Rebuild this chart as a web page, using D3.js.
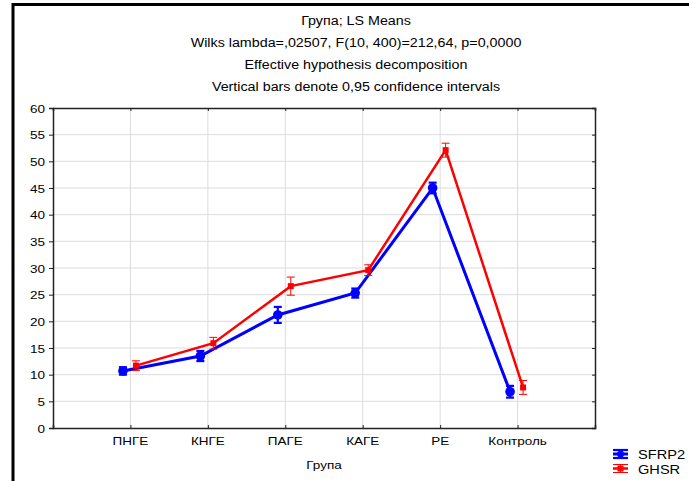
<!DOCTYPE html>
<html>
<head>
<meta charset="utf-8">
<script src="https://cdn.jsdelivr.net/npm/d3@7"></script>
<style>
  body { margin: 0; background: #fff; }
  text { font-family: "Liberation Sans", Arial, sans-serif; fill: #000; }
</style>
</head>
<body>
<svg id="chart" width="689" height="481"></svg>
<script>
// data
const groups = ["ПНГЕ", "КНГЕ", "ПАГЕ", "КАГЕ", "РЕ", "Контроль"];
const sfrp2 = [10.7, 13.5, 21.2, 25.3, 45.0, 6.8];
const sfrp2Ci = [0.7, 0.95, 1.5, 0.85, 1.0, 1.1];
const ghsr = [11.7, 15.9, 26.6, 29.6, 52.1, 7.6];
const ghsrCi = [0.9, 1.1, 1.7, 1.0, 1.3, 1.3];
const yTicks = [0, 5, 10, 15, 20, 25, 30, 35, 40, 45, 50, 55, 60];
const titleLines = [
  "Група; LS Means",
  "Wilks lambda=,02507, F(10, 400)=212,64, p=0,0000",
  "Effective hypothesis decomposition",
  "Vertical bars denote 0,95 confidence intervals"
];
const seriesNames = ["SFRP2", "GHSR"];

const svg = d3.select("#chart");
const margin = {top: 108, right: 94, bottom: 53, left: 53};
const W = 689, H = 481;
const w = W - margin.left - margin.right, h = H - margin.top - margin.bottom;
const sy = 0.84;

// squashed text like the original export
function label(sel, x, y, str, anchor, size) {
  return sel.append("text")
    .attr("transform", `translate(${x},${y}) scale(1,${sy})`)
    .attr("text-anchor", anchor || "middle")
    .style("font-size", (size || 13.5) + "px")
    .text(str);
}

// outer frame
svg.append("line").attr("x1", 13).attr("x2", 13).attr("y1", 3).attr("y2", H).attr("stroke", "#000").attr("stroke-width", 3);
svg.append("line").attr("x1", 12).attr("x2", W).attr("y1", 4.5).attr("y2", 4.5).attr("stroke", "#000").attr("stroke-width", 3);

titleLines.forEach((t, i) => label(svg, 356, 25 + i * 22, t, "middle", 14.3));

const g = svg.append("g").attr("transform", `translate(${margin.left},${margin.top})`);

const x = d3.scalePoint().domain(groups).range([0, w]).padding(1);
const y = d3.scaleLinear().domain([0, 60]).range([h, 0]);

// grid
g.selectAll(".hgrid").data(yTicks.slice(1, -1)).join("line")
  .attr("x1", 0).attr("x2", w).attr("y1", d => y(d)).attr("y2", d => y(d))
  .attr("stroke", "#dcdcdc").attr("stroke-width", 1);
g.selectAll(".vgrid").data(groups).join("line")
  .attr("x1", d => x(d)).attr("x2", d => x(d)).attr("y1", 0).attr("y2", h)
  .attr("stroke", "#dcdcdc").attr("stroke-width", 1);

// axes
g.append("g").call(d3.axisLeft(y).tickValues(yTicks).tickSize(4).tickFormat(""));
g.append("g").attr("transform", `translate(0,${h})`).call(d3.axisBottom(x).tickSize(-3).tickFormat(""));
g.append("g").call(d3.axisTop(x).tickSize(-3).tickFormat(""));
g.append("g").attr("transform", `translate(${w},0)`).call(d3.axisRight(y).tickValues(yTicks).tickSize(-3).tickFormat(""));
g.selectAll(".domain").attr("stroke", "#222").attr("stroke-width", 1.5);
g.selectAll(".tick line").attr("stroke", "#222");

yTicks.forEach(v => label(g, -8, y(v) + 4.5, v, "end"));
groups.forEach(c => label(g, x(c), h + 17, c));
label(svg, margin.left + w / 2, 469, "Група");

// series
const series = [
  {name: seriesNames[0], vals: sfrp2, ci: sfrp2Ci, color: "#0000ff", dx: -7.5, lw: 3, ew: 2.2},
  {name: seriesNames[1], vals: ghsr, ci: ghsrCi, color: "#ff0000", dx: 5.5, lw: 2.5, ew: 1}
];

series.forEach(s => {
  const pts = groups.map((c, i) => ({c, v: s.vals[i], e: s.ci[i]}));
  const line = d3.line().x(d => x(d.c) + s.dx).y(d => y(d.v));
  g.append("path").datum(pts).attr("d", line).attr("fill", "none")
    .attr("stroke", s.color).attr("stroke-width", s.lw);
  const eb = g.append("g").attr("stroke", s.color).attr("stroke-width", s.ew);
  pts.forEach(d => {
    const cx = x(d.c) + s.dx;
    eb.append("line").attr("x1", cx).attr("x2", cx).attr("y1", y(d.v - d.e)).attr("y2", y(d.v + d.e));
    eb.append("line").attr("x1", cx - 4).attr("x2", cx + 4).attr("y1", y(d.v - d.e)).attr("y2", y(d.v - d.e));
    eb.append("line").attr("x1", cx - 4).attr("x2", cx + 4).attr("y1", y(d.v + d.e)).attr("y2", y(d.v + d.e));
  });
  if (s.name === "SFRP2") {
    g.selectAll(".m1").data(pts).join("circle")
      .attr("cx", d => x(d.c) + s.dx).attr("cy", d => y(d.v)).attr("r", 4.8).attr("fill", s.color);
  } else {
    g.selectAll(".m2").data(pts).join("rect")
      .attr("x", d => x(d.c) + s.dx - 3).attr("y", d => y(d.v) - 3).attr("width", 6).attr("height", 6).attr("fill", s.color);
  }
});

// legend
series.forEach((s, i) => {
  const ly = 454 + i * 14.5;
  const lg = svg.append("g").attr("stroke", s.color);
  lg.append("line").attr("x1", 613).attr("x2", 628).attr("y1", ly).attr("y2", ly).attr("stroke-width", s.lw);
  lg.append("line").attr("x1", 613).attr("x2", 628).attr("y1", ly - 4).attr("y2", ly - 4).attr("stroke-width", s.ew);
  lg.append("line").attr("x1", 613).attr("x2", 628).attr("y1", ly + 4).attr("y2", ly + 4).attr("stroke-width", s.ew);
  lg.append("line").attr("x1", 620.5).attr("x2", 620.5).attr("y1", ly - 4).attr("y2", ly + 4).attr("stroke-width", s.ew);
  if (i === 0) lg.append("circle").attr("cx", 620.5).attr("cy", ly).attr("r", 3.5).attr("fill", s.color).attr("stroke", "none");
  else lg.append("rect").attr("x", 617.5).attr("y", ly - 3).attr("width", 6).attr("height", 6).attr("fill", s.color).attr("stroke", "none");
  label(svg, 638, ly + 5, s.name, "start", 14.6);
});
</script>
</body>
</html>
